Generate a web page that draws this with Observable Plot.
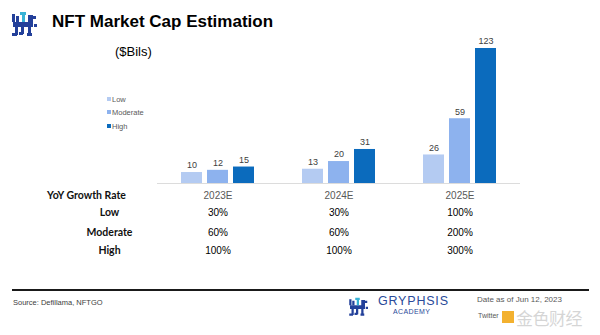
<!DOCTYPE html>
<html>
<head>
<meta charset="utf-8">
<script src="https://cdn.jsdelivr.net/npm/d3@7"></script>
<script src="https://cdn.jsdelivr.net/npm/@observablehq/plot@0.6"></script>
<style>
  html, body { margin: 0; padding: 0; background: #fff; }
  #wrap { position: relative; width: 600px; height: 335px; overflow: hidden; font-family: "Liberation Sans", Arial, sans-serif; }
  #chart { position: absolute; left: 0; top: 0; }
  .abs { position: absolute; white-space: nowrap; }
  #title { left: 52px; top: 12px; font-size: 17px; font-weight: bold; color: #000; }
  #unit { left: 115px; top: 44px; font-size: 13px; color: #000; }
  .leg { position: absolute; left: 107px; font-size: 7.5px; color: #595959; line-height: 10px; }
  .leg i { display: inline-block; width: 4px; height: 4px; margin-right: 1px; vertical-align: 1px; }
  #rule { left: 12px; top: 289px; width: 577px; height: 1.5px; background: #1a1a1a; }
  #source { left: 13px; top: 298px; font-size: 7.5px; color: #404040; }
  #gry { left: 378px; top: 294px; font-size: 12.5px; color: #2a4a9a; letter-spacing: 0.8px; }
  #acad { left: 393px; top: 308px; font-size: 7px; color: #2a4a9a; letter-spacing: 0.4px; }
  #date { left: 477px; top: 295px; font-size: 8px; line-height: 10px; color: #595959; }
  #tw { left: 478px; top: 312px; font-size: 7px; color: #595959; }
  #wm { left: 516px; top: 308px; font-size: 17px; line-height: 19px; color: rgba(200,200,200,0.75); font-family: "Noto Sans CJK SC", sans-serif; letter-spacing: -0.5px; }
  #wmsq { left: 502px; top: 311px; width: 12px; height: 12px; background: #f3b12f; }
</style>
</head>
<body>
<div id="wrap">
  <div id="chart"></div>
  <svg class="abs" style="left:10px;top:11px" width="30" height="28" viewBox="0 0 30 28">
    <g fill="#23409a">
      <rect x="2" y="3" width="3" height="8"/><rect x="6" y="5" width="3" height="6"/>
      <rect x="3" y="11" width="20" height="5"/><rect x="18" y="4" width="5" height="8"/>
      <rect x="23" y="5" width="3" height="3"/><rect x="5" y="16" width="3" height="8"/>
      <rect x="2" y="22" width="5" height="3"/><rect x="11" y="16" width="3" height="7"/>
      <rect x="9" y="21" width="4" height="3"/><rect x="18" y="16" width="3" height="8"/>
      <rect x="17" y="22" width="5" height="3"/><rect x="24" y="13" width="3" height="3"/>
    </g>
    <g fill="#38b3d6"><rect x="10" y="1" width="6" height="3"/><rect x="12" y="4" width="3" height="7"/></g>
  </svg>
  <div id="title" class="abs">NFT Market Cap Estimation</div>
  <div id="unit" class="abs">($Bils)</div>
  <div class="leg" style="top:95px"><i style="background:#b4cbf2"></i>Low</div>
  <div class="leg" style="top:108px"><i style="background:#8db2ee"></i>Moderate</div>
  <div class="leg" style="top:122px"><i style="background:#0b6bbd"></i>High</div>
  <div id="rule" class="abs"></div>
  <div id="source" class="abs">Source: Defillama, NFTGO</div>
  <svg class="abs" style="left:345px;top:297px" width="28" height="21" viewBox="0 0 30 28">
    <g fill="#23409a">
      <rect x="2" y="3" width="3" height="8"/><rect x="6" y="5" width="3" height="6"/>
      <rect x="3" y="11" width="20" height="5"/><rect x="18" y="4" width="5" height="8"/>
      <rect x="23" y="5" width="3" height="3"/><rect x="5" y="16" width="3" height="8"/>
      <rect x="2" y="22" width="5" height="3"/><rect x="11" y="16" width="3" height="7"/>
      <rect x="9" y="21" width="4" height="3"/><rect x="18" y="16" width="3" height="8"/>
      <rect x="17" y="22" width="5" height="3"/><rect x="24" y="13" width="3" height="3"/>
    </g>
    <g fill="#38b3d6"><rect x="10" y="1" width="6" height="3"/><rect x="12" y="4" width="3" height="7"/></g>
  </svg>
  <div id="gry" class="abs">GRYPHSIS</div>
  <div id="acad" class="abs">ACADEMY</div>
  <div id="date" class="abs">Date as of Jun 12, 2023</div>
  <div id="tw" class="abs">Twitter</div>
  <div id="wmsq" class="abs"></div>
  <div id="wm" class="abs">金色财经</div>
</div>
<script>
const years = ["2023E", "2024E", "2025E"];
const scenarios = ["Low", "Moderate", "High"];
const lowValues = [10, 13, 26];
const moderateValues = [12, 20, 59];
const highValues = [15, 31, 123];
const growthLow = ["30%", "30%", "100%"];
const growthModerate = ["60%", "60%", "200%"];
const growthHigh = ["100%", "100%", "300%"];
const rowLabels = ["YoY Growth Rate", "Low", "Moderate", "High"];
const colors = ["#b4cbf2", "#8db2ee", "#0b6bbd"];

const series = [lowValues, moderateValues, highValues];
const bars = years.flatMap((year, i) =>
  scenarios.map((s, j) => ({year, scenario: s, value: series[j][i]})));

const rowTexts = [years, growthLow, growthModerate, growthHigh];
const rowDy = [12, 29, 49, 67];

const tableMarks = rowTexts.map((arr, r) =>
  Plot.text(years.map((year, i) => ({year, label: arr[i]})), {
    fx: "year", text: "label", frameAnchor: "bottom", lineAnchor: "middle", dy: rowDy[r],
    fill: r === 0 ? "#595959" : "#000", fontSize: 10
  }));

const labelMarks = rowLabels.map((lab, r) =>
  Plot.text([{year: years[0], label: lab}], {
    fx: "year", text: "label", frameAnchor: "bottom-left", lineAnchor: "middle",
    dx: r === 0 ? -71 : -48, dy: rowDy[r], textAnchor: "middle",
    fontWeight: "bold", fontFamily: "Lato", fontSize: 10.5, fill: "#111"
  }));

const chart = Plot.plot({
  width: 600,
  height: 335,
  marginLeft: 157,
  marginRight: 80,
  marginTop: 48,
  marginBottom: 152,
  style: {fontFamily: "Liberation Sans, Arial, sans-serif", background: "transparent", overflow: "visible"},
  fx: {domain: years, padding: 0, axis: null},
  x: {domain: scenarios, paddingInner: 0.2, paddingOuter: 0.9, axis: null},
  y: {domain: [0, 123], axis: null},
  color: {domain: scenarios, range: colors},
  marks: [
    Plot.ruleY([0], {stroke: "#dcdcdc", strokeWidth: 1.2}),
    Plot.barY(bars, {fx: "year", x: "scenario", y: "value", fill: "scenario"}),
    Plot.text(bars, {fx: "year", x: "scenario", y: "value", text: d => String(d.value), dy: -7, fontSize: 9, fill: "#404040"}),
    ...tableMarks,
    ...labelMarks
  ]
});
document.getElementById("chart").appendChild(chart);
</script>
</body>
</html>
